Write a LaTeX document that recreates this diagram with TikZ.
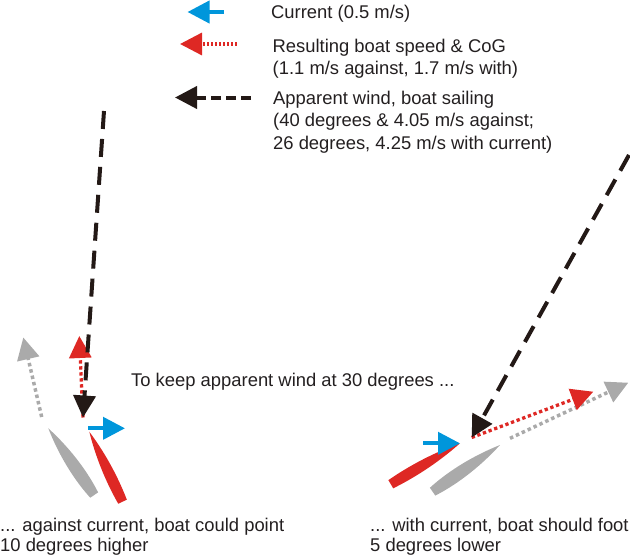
\documentclass[tikz,border=0pt]{standalone}
\usepackage{fontspec}
\setmainfont{Liberation Sans}
\usetikzlibrary{arrows.meta}
\definecolor{curblue}{RGB}{0, 150, 219}
\definecolor{cogred}{RGB}{222, 40, 36}
\definecolor{hullgrey}{RGB}{170, 170, 170}
\definecolor{windblack}{RGB}{35, 25, 22}
\definecolor{txtcol}{RGB}{35, 31, 32}
\tikzset{tiphead/.style = {-{Triangle[length = 22pt, width = 22pt]}}}
\tikzset{curarrow/.style = {tiphead, draw = curblue, line width = 4pt}}
\tikzset{cogarrow/.style = {tiphead, draw = cogred, line width = 3.3pt, dash pattern = on 3.3pt off 2.7pt}}
\tikzset{trackarrow/.style = {tiphead, draw = hullgrey, line width = 3.5pt, dash pattern = on 3.5pt off 3pt}}
\tikzset{windarrow/.style = {tiphead, draw = windblack, line width = 4pt, dash pattern = on 18pt off 10pt}}
\tikzset{lbl/.style = {inner sep = 0, text = txtcol, align = left, font = \fontsize{18.4}{22}\selectfont}}
\tikzset{pics/hull/.style args = {#1/#2/#3}{code = {
    \fill [#3] (0, 0) .. controls (0.4*#1, #2) and (0.75*#1, #2) .. (#1, 4.75)
        -- (#1, -4.75) .. controls (0.75*#1, -#2) and (0.4*#1, -#2) .. (0, 0);
}}}

\begin{document}
\begin{tikzpicture}[x = 1pt, y = -1pt]
    \useasboundingbox (0, 0) rectangle (630, 557);

    \coordinate (keycurtail) at (224, 12);
    \coordinate (keycurtip) at (187.5, 12);
    \coordinate (keycogtail) at (236.5, 44);
    \coordinate (keycogtip) at (180, 44);
    \coordinate (keywindtail) at (251, 97.5);
    \coordinate (keywindtip) at (175, 97.5);

    \draw [curarrow] (keycurtail) -- (keycurtip);
    \draw [cogarrow, dash pattern = on 2pt off 2pt] (keycogtail) -- (keycogtip);
    \draw [windarrow, dash pattern = on 10pt off 5pt] (keywindtail) -- (keywindtip);

    \node [lbl, anchor = base west] (keycurtxt) at (271, 18) {Current (0.5 m/s)};
    \node [lbl, anchor = base west, font = \fontsize{18.4}{21.3}\selectfont] (keycogtxt) at (272.5, 74) {Resulting boat speed \& CoG\\(1.1 m/s against, 1.7 m/s with)};
    \node [lbl, anchor = base west, font = \fontsize{18.4}{22.5}\selectfont] (keywindtxt) at (273, 149) {Apparent wind, boat sailing\\(40 degrees \& 4.05 m/s against;\\26 degrees, 4.25 m/s with current)};

    \coordinate (lgreybow) at (48.3, 428.3);
    \coordinate (lredbow) at (89.3, 431.7);
    \coordinate (lpos) at (83, 417.5);
    \coordinate (lwindtail) at (104, 111);
    \coordinate (lcogtip) at (79.3, 336);
    \coordinate (ltracktail) at (41.7, 417);
    \coordinate (ltracktip) at (23.3, 337.5);
    \coordinate (lcurtail) at (88.3, 428.3);
    \coordinate (lcurtip) at (125, 428.3);

    \pic [rotate = -55.5] at (lgreybow) {hull = 81/7.5/hullgrey};
    \pic [rotate = -64.6] at (lredbow) {hull = 77.5/6.2/cogred};
    \draw [trackarrow] (ltracktail) -- (ltracktip);
    \draw [cogarrow] (lpos) -- (lcogtip);
    \draw [windarrow] (lwindtail) -- (lpos);
    \draw [curarrow] (lcurtail) -- (lcurtip);

    \coordinate (rgreybow) at (500, 445);
    \coordinate (rredbow) at (460, 443.3);
    \coordinate (rpos) at (471.7, 437.5);
    \coordinate (rwindtail) at (629, 155);
    \coordinate (rcogtip) at (593.3, 391.7);
    \coordinate (rtracktail) at (510, 438.3);
    \coordinate (rtracktip) at (628.3, 382.7);
    \coordinate (rcurtail) at (423.3, 443.3);
    \coordinate (rcurtip) at (460, 443.3);

    \pic [rotate = 214.7] at (rgreybow) {hull = 82/7.5/hullgrey};
    \pic [rotate = 210.6] at (rredbow) {hull = 80.4/6.2/cogred};
    \draw [trackarrow] (rtracktail) -- (rtracktip);
    \draw [cogarrow] (rpos) -- (rcogtip);
    \draw [windarrow] (rwindtail) -- (rpos);
    \draw [curarrow] (rcurtail) -- (rcurtip);

    \node [lbl, anchor = base west] (aimtxt) at (131, 386) {To keep apparent wind at 30 degrees ...};
    \node [lbl, anchor = base west, font = \fontsize{18.4}{20}\selectfont] (againsttxt) at (0, 551.7) {... against current, boat could point\\10 degrees higher};
    \node [lbl, anchor = base west, font = \fontsize{18.4}{20}\selectfont] (withtxt) at (370, 551.7) {... with current, boat should foot\\5 degrees lower};
\end{tikzpicture}
\end{document}
